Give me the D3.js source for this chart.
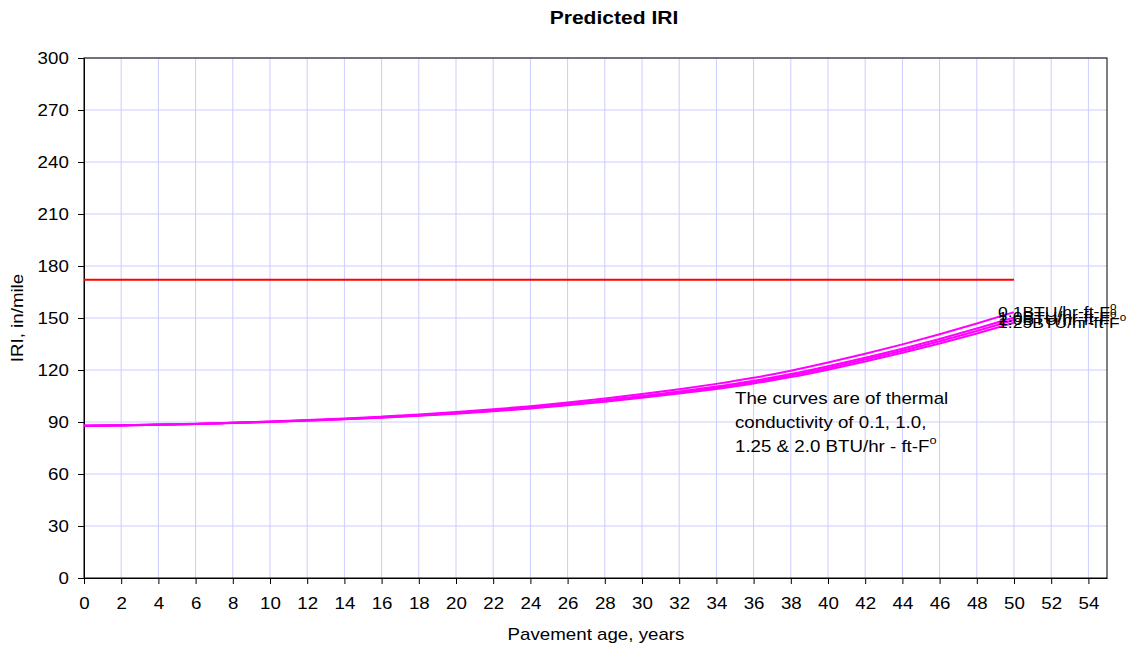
<!DOCTYPE html>
<html>
<head>
<meta charset="UTF-8">
<title>Predicted IRI</title>
<script src="https://d3js.org/d3.v7.min.js"></script>
<style>
  body { margin: 0; background: #fff; }
  text { font-family: "Liberation Sans", Arial, sans-serif; fill: #000; }
</style>
</head>
<body>
<div id="chart"></div>
<script>
// pavement age, years
var years = [0,2,4,6,8,10,12,14,16,18,20,22,24,26,28,30,32,34,36,38,40,42,44,46,48,50];
// IRI, in/mile for each thermal conductivity
var iri01  = [87.8,88.1,88.5,89.0,89.6,90.3,91.1,92.0,93.1,94.3,95.7,97.3,99.1,101.2,103.5,106.1,108.9,112.0,115.5,119.6,124.3,129.4,134.8,140.6,146.8,153.4];
var iri10  = [87.8,88.1,88.5,88.9,89.5,90.2,90.9,91.8,92.8,93.9,95.2,96.7,98.4,100.4,102.6,105.0,107.6,110.5,113.8,117.7,122.2,127.1,132.3,137.9,143.9,150.3];
var iri20  = [87.8,88.0,88.4,88.9,89.5,90.1,90.9,91.7,92.7,93.8,95.0,96.5,98.1,100.0,102.1,104.5,107.0,109.8,113.0,116.8,121.2,126.0,131.1,136.6,142.5,148.8];
var iri125 = [87.8,88.0,88.4,88.8,89.4,90.0,90.8,91.6,92.5,93.6,94.8,96.2,97.8,99.6,101.7,104.0,106.4,109.1,112.2,115.9,120.2,124.9,129.9,135.3,141.1,147.3];
var seriesNames = ["0.1BTU/hr-ft-F", "1.0BTU/hr-ft-F", "2.0BTU/hr-ft-F", "1.25BTU/hr-ft-F"];
var limitYears = [0, 50];
var limitIRI = [172, 172];
var xTicks = d3.range(0, 55, 2);
var yTicks = [0,30,60,90,120,150,180,210,240,270,300];

var width = 1133, height = 649;
var pLeft = 84, pRight = 1107, pTop = 58, pBottom = 578;
var sx = 1.17; // text in the picture is stretched sideways

var svg = d3.select("#chart").append("svg")
  .attr("width", width).attr("height", height);

var x = d3.scaleLinear().domain([0, 55]).range([pLeft, pRight]);
var y = d3.scaleLinear().domain([0, 300]).range([pBottom, pTop]);

// grid
svg.append("g").selectAll("line").data(xTicks.slice(1)).enter().append("line")
  .attr("x1", d => x(d)).attr("x2", d => x(d))
  .attr("y1", pTop).attr("y2", pBottom)
  .attr("stroke", "#ccccff").attr("stroke-width", 1);
svg.append("g").selectAll("line").data(yTicks.slice(1)).enter().append("line")
  .attr("x1", pLeft).attr("x2", pRight)
  .attr("y1", d => y(d)).attr("y2", d => y(d))
  .attr("stroke", "#ccccff").attr("stroke-width", 1);

// frame
svg.append("rect").attr("x", pLeft).attr("y", pTop)
  .attr("width", pRight - pLeft).attr("height", pBottom - pTop)
  .attr("fill", "none").attr("stroke", "#000").attr("stroke-width", 1);

// axes
var xAxis = svg.append("g").attr("transform", "translate(0," + pBottom + ")")
  .call(d3.axisBottom(x).tickValues(xTicks).tickSize(6).tickSizeOuter(0).tickPadding(14));
var yAxis = svg.append("g").attr("transform", "translate(" + pLeft + ",0)")
  .call(d3.axisLeft(y).tickValues(yTicks).tickSize(6).tickSizeOuter(0).tickPadding(7));
[xAxis, yAxis].forEach(function(a) {
  a.select(".domain").attr("stroke", "#000");
  a.selectAll(".tick line").attr("stroke", "#000");
  a.selectAll(".tick text").attr("font-size", 16)
    .attr("font-family", "Liberation Sans, Arial, sans-serif")
    .attr("fill", "#000")
    .attr("transform", "scale(" + sx + ",1)");
});

// red limit line
var line = d3.line().x(d => x(d[0])).y(d => y(d[1]));
svg.append("path")
  .datum(limitYears.map((d, i) => [d, limitIRI[i]]))
  .attr("d", line).attr("fill", "none")
  .attr("stroke", "#ff0000").attr("stroke-width", 2);

// IRI curves
var curve = d3.line().x(d => x(d[0])).y(d => y(d[1])).curve(d3.curveMonotoneX);
var allSeries = [iri01, iri10, iri20, iri125];
allSeries.forEach(function(s) {
  svg.append("path")
    .datum(years.map((d, i) => [d, s[i]]))
    .attr("d", curve).attr("fill", "none")
    .attr("stroke", "#ff00ff").attr("stroke-width", 2);
});

// end labels
allSeries.forEach(function(s, k) {
  var t = svg.append("text")
    .attr("transform", "translate(" + (x(50) - 16) + "," + (y(s[s.length - 1]) + 5) + ") scale(" + sx + ",1)")
    .attr("font-size", 15);
  t.append("tspan").text(seriesNames[k]);
  t.append("tspan").attr("font-size", 10).attr("dy", -7).text("o");
});

// note
var notes = ["The curves are of thermal", "conductivity of 0.1, 1.0,", "1.25 & 2.0 BTU/hr - ft-F"];
notes.forEach(function(n, i) {
  var t = svg.append("text")
    .attr("transform", "translate(735," + (404 + i * 24) + ") scale(" + sx + ",1)")
    .attr("font-size", 16);
  t.append("tspan").text(n);
  if (i === 2) t.append("tspan").attr("font-size", 11).attr("dy", -8).text("o");
});

// title and axis titles
svg.append("text")
  .attr("transform", "translate(614,24) scale(" + sx + ",1)")
  .attr("text-anchor", "middle").attr("font-size", 18).attr("font-weight", "bold")
  .text("Predicted IRI");
svg.append("text")
  .attr("transform", "translate(596,640) scale(" + sx + ",1)")
  .attr("text-anchor", "middle").attr("font-size", 16)
  .text("Pavement age, years");
svg.append("text")
  .attr("transform", "translate(23,318) rotate(-90) scale(" + sx + ",1)")
  .attr("text-anchor", "middle").attr("font-size", 16)
  .text("IRI, in/mile");
</script>
</body>
</html>
